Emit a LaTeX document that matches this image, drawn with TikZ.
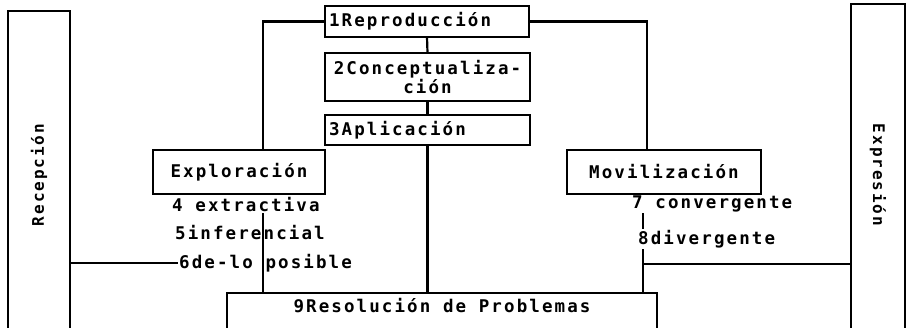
\documentclass[tikz,border=0pt]{standalone}
\usepackage{fontspec}
\newfontfamily\scanfont{DejaVu Sans Mono}[LetterSpace=12.0]
\usepackage{tikz}
\tikzset{
  cajon/.style={draw=black, line width=2.200000pt, fill=white, inner sep=4pt, outer sep=0pt,
    font=\scanfont\bfseries\fontsize{17.5}{17}\selectfont},
  columna/.style={draw=black, line width=2.200000pt, fill=white, inner sep=0pt, outer sep=0pt,
    font=\scanfont\bfseries\fontsize{16}{17}\selectfont},
  rotulo/.style={inner sep=1pt, font=\scanfont\bfseries\fontsize{17.5}{17}\selectfont},
  linea/.style={draw=black, line width=2.200000pt},
}

\begin{document}
\begin{tikzpicture}[scale=1.000000,x=1pt,y=1pt]
\useasboundingbox (0.000000, 0.000000) rectangle (909.000000, 328.000000);
\clip (0.000000, 0.000000) rectangle (909.000000, 328.000000);
\filldraw[color=white] (0.000000, 0.000000) rectangle (909.000000, 328.000000);
% Drawing columns
% Line 2: recep Recepción
\node[columna, anchor=north, minimum width=62.000000, minimum height=328.000000] (recep) at (39.000000,317.000000) {\rotatebox{90}{Recepción}};
% Line 3: expre Expresión
\node[columna, anchor=north, minimum width=54.000000, minimum height=342.000000] (expre) at (878.000000,324.000000) {\rotatebox{-90}{Expresión}};
% Done with columns; drawing boxes
% Line 4: repro 1Reproducción
\node[cajon, minimum height=31.000000, text width=196.000000, align=left] (repro) at (427.000000,306.500000) {1Reproducción};
% Line 5: concep 2Conceptualización
\node[cajon, inner xsep=2pt, minimum height=48.000000, text width=201.000000, align=center] (concep) at (427.500000,251.000000) {2Conceptualiza-\\ción};
% Line 6: aplic 3Aplicación
\node[cajon, minimum height=30.000000, text width=197.000000, align=left] (aplic) at (427.500000,198.000000) {3Aplicación};
% Line 7: explo Exploración
\node[cajon, minimum width=172.000000, minimum height=44.000000] (explo) at (239.000000,156.000000) {Exploración};
% Line 8: movil Movilización
\node[cajon, minimum width=194.000000, minimum height=44.000000] (movil) at (664.000000,156.000000) {Movilización};
% Line 9: resol 9Resolución de Problemas
\node[cajon, anchor=north, minimum width=430.000000, inner ysep=8pt, text height=12pt, text depth=50pt] (resol) at (442.000000,35.000000) {9Resolución de Problemas};
% Done with boxes; drawing labels
\node[rotulo, anchor=west] (ext4) at (171.000000,123.000000) {4 extractiva};
\node[rotulo, anchor=west] (inf5) at (174.000000,95.000000) {5inferencial};
\node[rotulo, anchor=west] (pos6) at (178.000000,65.000000) {6de-lo posible};
\node[rotulo, anchor=west] (conv7) at (631.000000,124.000000) {7 convergente};
\node[rotulo, anchor=west] (div8) at (637.000000,89.000000) {8divergente};
% Done with labels; drawing connectors
\coordinate (ejeexplo) at (263.000000,65.000000);
\coordinate (ejemovil) at (643.000000,64.000000);
% Line 10: repro W explo, repro E movil
\draw[linea] (repro.west) -| (explo.north -| ejeexplo);
\draw[linea] (repro.east) -| ([xshift=-17pt]movil.north);
% Line 11: repro C concep C aplic C resol
\draw[linea] (repro.south) -- (concep.north);
\draw[linea] (concep.south) -- (aplic.north);
\draw[linea] (aplic.south) -- (aplic.south |- resol.north);
% Line 12: explo C resol, recep C pos6
\draw[linea] (ext4.south -| ejeexplo) -- (resol.north -| ejeexplo);
\draw[linea] (recep.east |- pos6.west) -- (pos6.west);
% Line 13: movil C resol, movil C expre
\draw[linea] (conv7.south -| ejemovil) -- (div8.north -| ejemovil);
\draw[linea] (div8.south -| ejemovil) -- (resol.north -| ejemovil);
\draw[linea] (ejemovil) -- (expre.west |- ejemovil);
% Done with connectors
\end{tikzpicture}
\end{document}
